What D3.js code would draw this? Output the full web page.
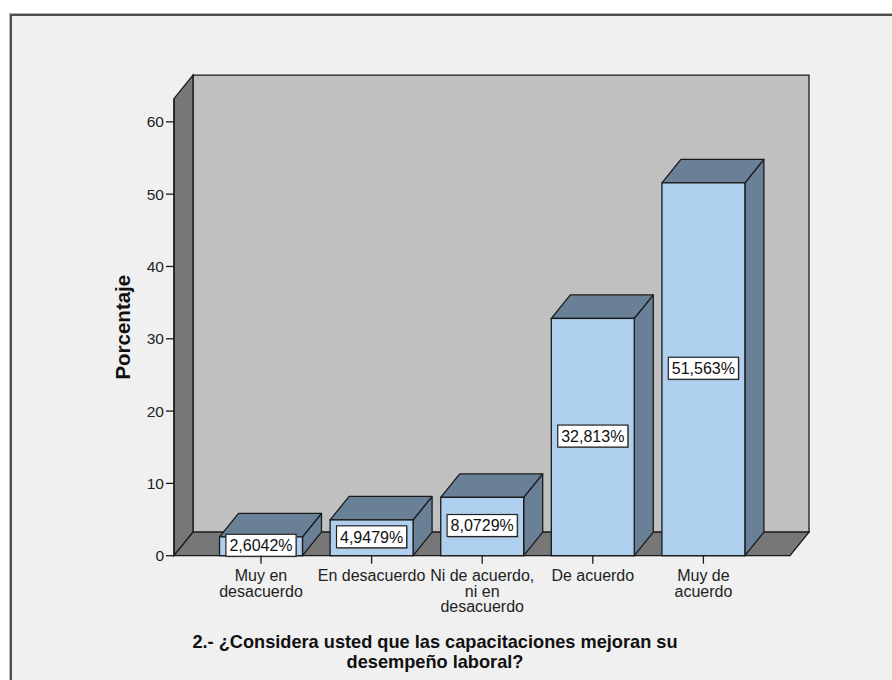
<!DOCTYPE html>
<html>
<head>
<meta charset="utf-8">
<script src="https://cdn.jsdelivr.net/npm/d3@7"></script>
<style>
  html, body { margin: 0; padding: 0; background: #ffffff; }
  svg { display: block; font-family: "Liberation Sans", Arial, sans-serif; }
</style>
</head>
<body>
<svg id="chart" width="892" height="680"></svg>
<script>
// Survey answers and their share of respondents (%)
const categories = [
  "Muy en desacuerdo",
  "En desacuerdo",
  "Ni de acuerdo, ni en desacuerdo",
  "De acuerdo",
  "Muy de acuerdo"
];
const categoryLines = [
  ["Muy en", "desacuerdo"],
  ["En desacuerdo"],
  ["Ni de acuerdo,", "ni en", "desacuerdo"],
  ["De acuerdo"],
  ["Muy de", "acuerdo"]
];
const percentages = [2.6042, 4.9479, 8.0729, 32.813, 51.563];
const valueLabels = ["2,6042%", "4,9479%", "8,0729%", "32,813%", "51,563%"];
const yTicks = [0, 10, 20, 30, 40, 50, 60];
const yAxisTitle = "Porcentaje";
const titleLines = [
  "2.- ¿Considera usted que las capacitaciones mejoran su",
  "desempeño laboral?"
];

const svg = d3.select("#chart");

// panel frame
svg.append("rect").attr("x", 9.5).attr("y", 13.5).attr("width", 900).attr("height", 700)
  .attr("fill", "#f0f0f0").attr("stroke", "#b4b4b4").attr("stroke-width", 1);
svg.append("rect").attr("x", 11).attr("y", 15).attr("width", 900).attr("height", 700)
  .attr("fill", "none").attr("stroke", "#4e4e4e").attr("stroke-width", 2);

// plot geometry
const left = 174, right = 790;
const dx = 19, dy = -23.5;            // 3-D depth offset
const yMax = 63.2;
const y = d3.scaleLinear().domain([0, yMax]).range([555.7, 98.7]);
const x = d3.scaleBand().domain(categories).range([205.7, 758.7])
  .paddingInner(0.25).paddingOuter(0.125);

const outline = "#1a1a1a";
const sw = 1.3;
const poly = pts => "M" + pts.map(p => p.join(",")).join("L") + "Z";

const y0 = y(0), yTop = y(yMax);

// back wall
svg.append("path")
  .attr("d", poly([[left + dx, yTop + dy], [right + dx, yTop + dy], [right + dx, y0 + dy], [left + dx, y0 + dy]]))
  .attr("fill", "#c0c0c0").attr("stroke", outline).attr("stroke-width", sw);
// left wall
svg.append("path")
  .attr("d", poly([[left, yTop], [left + dx, yTop + dy], [left + dx, y0 + dy], [left, y0]]))
  .attr("fill", "#777777").attr("stroke", outline).attr("stroke-width", sw);
// floor
svg.append("path")
  .attr("d", poly([[left, y0], [left + dx, y0 + dy], [right + dx, y0 + dy], [right, y0]]))
  .attr("fill", "#777777").attr("stroke", outline).attr("stroke-width", sw);

// bars
const bars = svg.append("g");
categories.forEach((c, i) => {
  const x0 = x(c), x1 = x(c) + x.bandwidth();
  const yv = y(percentages[i]);
  const g = bars.append("g");
  g.append("path")
    .attr("d", poly([[x1, yv], [x1 + dx, yv + dy], [x1 + dx, y0 + dy], [x1, y0]]))
    .attr("fill", "#6a8096").attr("stroke", outline).attr("stroke-width", sw).attr("stroke-linejoin", "round");
  g.append("path")
    .attr("d", poly([[x0, yv], [x0 + dx, yv + dy], [x1 + dx, yv + dy], [x1, yv]]))
    .attr("fill", "#6a8096").attr("stroke", outline).attr("stroke-width", sw).attr("stroke-linejoin", "round");
  g.append("rect")
    .attr("x", x0).attr("y", yv).attr("width", x.bandwidth()).attr("height", y0 - yv)
    .attr("fill", "#aed0ee").attr("stroke", outline).attr("stroke-width", sw);
});

// value labels
const labels = svg.append("g").attr("font-size", "16px").attr("fill", "#111");
categories.forEach((c, i) => {
  const cx = x(c) + x.bandwidth() / 2;
  const cy = (y(percentages[i]) + y0) / 2 - 1;
  const g = labels.append("g");
  const shadow = g.append("rect");
  const box = g.append("rect");
  const t = g.append("text").attr("x", cx).attr("y", cy).attr("text-anchor", "middle")
    .attr("dy", "0.36em").text(valueLabels[i]);
  const w = t.node().getComputedTextLength() + 7, h = 22;
  shadow.attr("x", cx - w / 2 + 1).attr("y", cy - h / 2 + 1).attr("width", w).attr("height", h)
    .attr("fill", "#8a8a8a");
  box.attr("x", cx - w / 2).attr("y", cy - h / 2).attr("width", w).attr("height", h)
    .attr("fill", "#ffffff").attr("stroke", "#222").attr("stroke-width", 1.2);
});

// y axis
const yAxis = svg.append("g").attr("font-size", "15.5px").attr("fill", "#222");
yAxis.append("line").attr("x1", left).attr("x2", left).attr("y1", yTop).attr("y2", y0)
  .attr("stroke", outline).attr("stroke-width", sw);
yTicks.forEach(v => {
  yAxis.append("line").attr("x1", left - 8).attr("x2", left).attr("y1", y(v)).attr("y2", y(v))
    .attr("stroke", outline).attr("stroke-width", 1.3);
  yAxis.append("text").attr("x", left - 10).attr("y", y(v)).attr("dy", "0.36em")
    .attr("text-anchor", "end").text(v);
});
svg.append("text")
  .attr("transform", `translate(129.5, ${(y(0) + y(yMax)) / 2}) rotate(-90)`)
  .attr("text-anchor", "middle").attr("font-weight", "bold").attr("font-size", "20.5px")
  .attr("fill", "#111").text(yAxisTitle);

// x axis ticks and category labels
const xAxis = svg.append("g").attr("font-size", "16px").attr("fill", "#222");
categories.forEach((c, i) => {
  const cx = x(c) + x.bandwidth() / 2;
  xAxis.append("line").attr("x1", cx).attr("x2", cx).attr("y1", y0).attr("y2", y0 + 8)
    .attr("stroke", outline).attr("stroke-width", 1.3);
  const t = xAxis.append("text").attr("text-anchor", "middle");
  categoryLines[i].forEach((ln, k) => {
    t.append("tspan").attr("x", cx).attr("y", 581 + k * 15.5).text(ln);
  });
});

// title
const title = svg.append("text").attr("text-anchor", "middle").attr("font-weight", "bold")
  .attr("font-size", "18.2px").attr("fill", "#111");
titleLines.forEach((ln, k) => {
  title.append("tspan").attr("x", 435).attr("y", 648 + k * 20).text(ln);
});
</script>
</body>
</html>
